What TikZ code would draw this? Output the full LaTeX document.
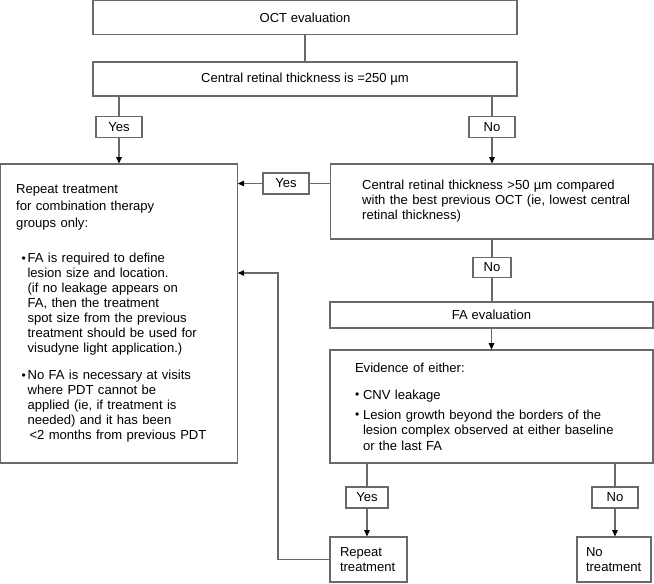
\documentclass[tikz,border=0pt]{standalone}
\usepackage{fontspec}
\setmainfont{Liberation Sans}
\usetikzlibrary{arrows.meta}
\definecolor{boxGray}{RGB}{105,105,105}
\newcommand{\bul}[1][4.5pt]{\makebox[#1][l]{\raisebox{0.3pt}{\fontsize{9}{9}\selectfont\textbullet}}}

\begin{document}
\begin{tikzpicture}[x=0.75pt,y=-0.75pt,
    every node/.style={font=\fontsize{9.8}{11.6}\selectfont},
    box/.style={draw=boxGray, line width=0.8pt, inner ysep=2pt},
    lbl/.style={draw=boxGray, line width=0.8pt, inner sep=0pt, minimum width=34.5pt, minimum height=16pt},
    arr/.style={-{Triangle[width=4.2pt,length=4.8pt,color=black]}}]
\useasboundingbox (0,0) rectangle (654,583);

% Top boxes
\node[box, minimum width=318pt, minimum height=25.5pt] (oct) at (305,17.5) {OCT evaluation};
\node[box, minimum width=318pt, minimum height=25.5pt] (crt) at (305,79) {Central retinal thickness is =250 µm};

% Left: repeat treatment
\node[box, text width=153.75pt, inner xsep=12pt, minimum height=224.25pt, align=left,
      font=\fontsize{9.8}{11.25}\selectfont] (rep) at (118.75,313.5) {%
  Repeat treatment\\[1.5pt]
  for combination therapy\\[1.5pt]
  groups only:\\[15pt]
  \hspace*{4pt}\bul FA is required to define\\
  \hspace*{8.5pt}lesion size and location.\\
  \hspace*{8.5pt}(if no leakage appears on\\
  \hspace*{8.5pt}FA, then the treatment\\
  \hspace*{8.5pt}spot size from the previous\\
  \hspace*{8.5pt}treatment should be used for\\
  \hspace*{8.5pt}visudyne light application.)\\[9pt]
  \hspace*{4pt}\bul No FA is necessary at visits\\
  \hspace*{8.5pt}where PDT cannot be\\
  \hspace*{8.5pt}applied (ie, if treatment is\\
  \hspace*{8.5pt}needed) and it has been\\
  \hspace*{10pt}<2 months from previous PDT};

% Right column
\node[box, text width=215pt, inner xsep=13.6pt, minimum height=56.25pt, align=left] (crtb) at (491.5,201.5) {%
  \hspace*{10.5pt}Central retinal thickness >50 µm compared\\[-0.4pt]
  \hspace*{10.5pt}with the best previous OCT (ie, lowest central\\[-0.4pt]
  \hspace*{10.5pt}retinal thickness)};
\node[box, minimum width=242.25pt, minimum height=19.5pt] (fa) at (491.5,315) {FA evaluation};
\node[box, text width=204.75pt, inner xsep=18.75pt, minimum height=84.75pt, align=left] (evid) at (491.5,406.5) {%
  Evidence of either:\\[8.6pt]
  \bul[6pt]CNV leakage\\[3.5pt]
  \bul[6pt]Lesion growth beyond the borders of the\\
  \hspace*{6pt}lesion complex observed at either baseline\\
  \hspace*{6pt}or the last FA};
\node[box, text width=42.75pt, inner xsep=7.5pt, minimum height=33.75pt, align=left] (rept) at (368.5,559.5) {Repeat\\treatment};
\node[box, text width=42pt, inner xsep=6.75pt, minimum height=33.75pt, align=left] (notr) at (614,559.5) {No\\treatment};

% Yes/No labels
\node[lbl] (yesa) at (119,127) {Yes};
\node[lbl] (noa) at (492,127) {No};
\node[lbl, minimum height=15.75pt] (yesb) at (286,183.5) {Yes};
\node[lbl, minimum width=28.5pt, minimum height=15pt] (nob) at (492,267.5) {No};
\node[lbl, minimum width=31.5pt, minimum height=15.75pt] (yesc) at (367,497.5) {Yes};
\node[lbl, minimum height=15.75pt] (noc) at (615,497.5) {No};

% Connectors
\begin{scope}[draw=boxGray, line width=0.8pt]
  \draw (oct) -- (crt);
  \draw (crt.south -| yesa) -- (yesa);
  \draw[arr] (yesa) -- (yesa |- rep.north);
  \draw (crt.south -| noa) -- (noa);
  \draw[arr] (noa) -- (noa |- crtb.north);
  \draw (crtb.west |- yesb) -- (yesb);
  \draw[arr] (yesb) -- (yesb -| rep.east);
  \draw (crtb.south -| nob) -- (nob);
  \draw (nob) -- (nob |- fa.north);
  \draw[arr] (fa) -- (evid);
  \draw (evid.south -| yesc) -- (yesc);
  \draw[arr] (yesc) -- (yesc |- rept.north);
  \draw (evid.south -| noc) -- (noc);
  \draw[arr] (noc) -- (noc |- notr.north);

  % Back to the repeat box
  \coordinate (back) at (278,273);
  \draw[arr] (rept.west) -| (back) -- (back -| rep.east);
\end{scope}
\end{tikzpicture}
\end{document}
